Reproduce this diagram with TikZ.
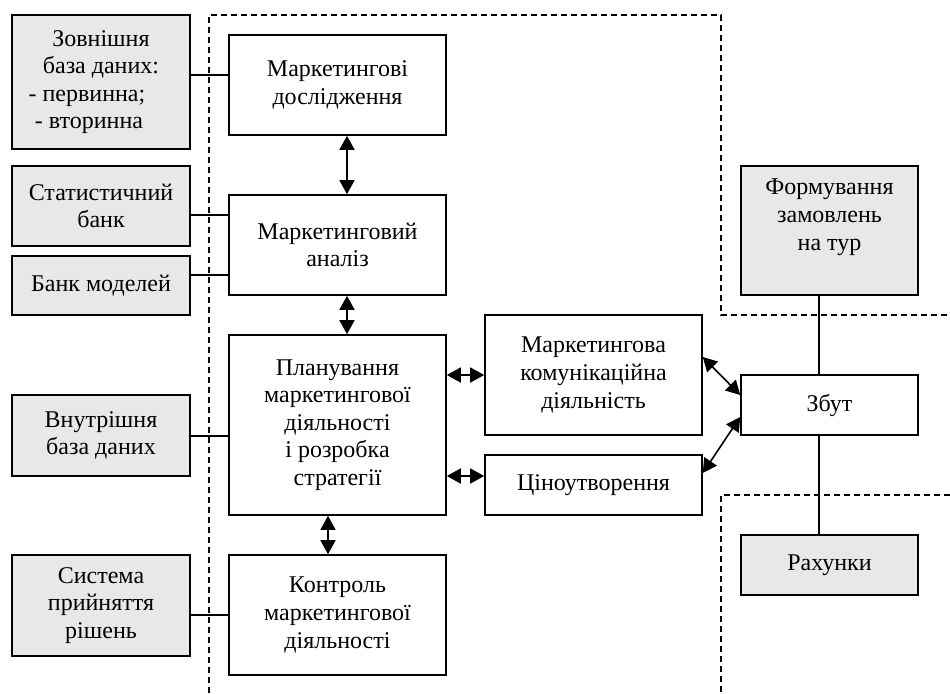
\documentclass[tikz,border=0pt]{standalone}
\usepackage{fontspec}
\setmainfont{Liberation Serif}
\usetikzlibrary{arrows.meta}
\definecolor{srcgray}{RGB}{232,232,232}
\tikzset{
	srcbox/.style={draw, line width=0.8pt, fill=srcgray, align=center, inner sep=0pt, minimum width=89pt},
	fnbox/.style={draw, line width=0.8pt, fill=white, align=center, inner sep=0pt, minimum width=108.5pt},
	outbox/.style={srcbox, minimum width=88.5pt},
	salebox/.style={fnbox, minimum width=88.5pt},
	link/.style={line width=0.6pt},
	both/.style={line width=0.8pt, {Triangle[length=7pt,width=7.5pt]}-{Triangle[length=7pt,width=7.5pt]}},
	zone/.style={line width=0.6pt, dash pattern=on 3pt off 2pt}
}

\begin{document}
\begin{tikzpicture}[x=0.5pt, y=-0.5pt, font=\fontsize{12}{13.8}\selectfont]
				\useasboundingbox (0,0) rectangle (950,693);
				
				\draw[zone] (209,693) -- (209,15) -- (721,15) -- (721,315) -- (950,315);
				\draw[zone] (950,495) -- (721,495) -- (721,693);
				
				\node[srcbox, minimum height=67pt] (ext) at (101,82) {Зовнішня\\база даних:\\- первинна;\rule{14pt}{0pt}\\- вторинна\rule{12pt}{0pt}};
				\node[srcbox, minimum height=40pt] (stat) at (101,206) {Статистичний\\банк};
				\node[srcbox, minimum height=29.5pt] (models) at (101,285.5) {Банк моделей};
				\node[srcbox, minimum height=40.5pt] (intdb) at (101,435.5) {Внутрішня\\база даних};
				\node[srcbox, minimum height=50.5pt] (dss) at (101,605.5) {Система\\прийняття\\рішень};
				
				\node[fnbox, minimum height=50pt] (research) at (337.5,85) {Маркетингові\\дослідження};
				\node[fnbox, minimum height=50pt] (analysis) at (337.5,245) {Маркетинговий\\аналіз};
				\node[fnbox, minimum height=90pt] (planning) at (337.5,425) {Планування\\маркетингової\\діяльності\\і розробка\\стратегії};
				\node[fnbox, minimum height=60pt] (control) at (337.5,615) {Контроль\\маркетингової\\діяльності};
				
				\node[fnbox, minimum height=60pt] (comm) at (593.5,375) {Маркетингова\\комунікаційна\\діяльність};
				\node[fnbox, minimum height=30pt] (pricing) at (593.5,485) {Ціноутворення};
				
				\node[outbox, minimum height=64.5pt] (orders) at (829.5,230.5) {Формування\\замовлень\\на тур\\[2pt]};
				\node[salebox, minimum height=30pt] (sales) at (829.5,405) {Збут};
				\node[outbox, minimum height=30pt] (bills) at (829.5,565) {Рахунки};
				
				\draw[link] ([yshift=3.5pt]ext.east) -- ([yshift=3.5pt]ext.east -| research.west);
				\draw[link] ([yshift=-4.5pt]stat.east) -- ([yshift=-4.5pt]stat.east -| analysis.west);
				\draw[link] ([yshift=5.25pt]models.east) -- ([yshift=5.25pt]models.east -| analysis.west);
				\draw[link] ([yshift=-0.25pt]intdb.east) -- ([yshift=-0.25pt]intdb.east -| planning.west);
				\draw[link] (dss.east |- control.west) -- (control.west);
				
				\draw[both] ([xshift=4.75pt]research.south) -- ([xshift=4.75pt]analysis.north);
				\draw[both] ([xshift=4.75pt]analysis.south) -- ([xshift=4.75pt]planning.north);
				\draw[both] ([xshift=-4.75pt]planning.south) -- ([xshift=-4.75pt]control.north);
				\draw[both] (planning.east |- comm.west) -- (comm.west);
				\draw[both] ([yshift=4.5pt]planning.east |- pricing.west) -- ([yshift=4.5pt]pricing.west);
				\draw[both] ([yshift=9pt]comm.east) -- ([yshift=5pt]sales.west);
				\draw[both] ([yshift=6pt]pricing.east) -- ([yshift=-6pt]sales.west);
				
				\draw[link] ([xshift=-5.25pt]orders.south) -- ([xshift=-5.25pt]sales.north);
				\draw[link] ([xshift=-5.25pt]sales.south) -- ([xshift=-5.25pt]bills.north);
			\end{tikzpicture}
\end{document}
